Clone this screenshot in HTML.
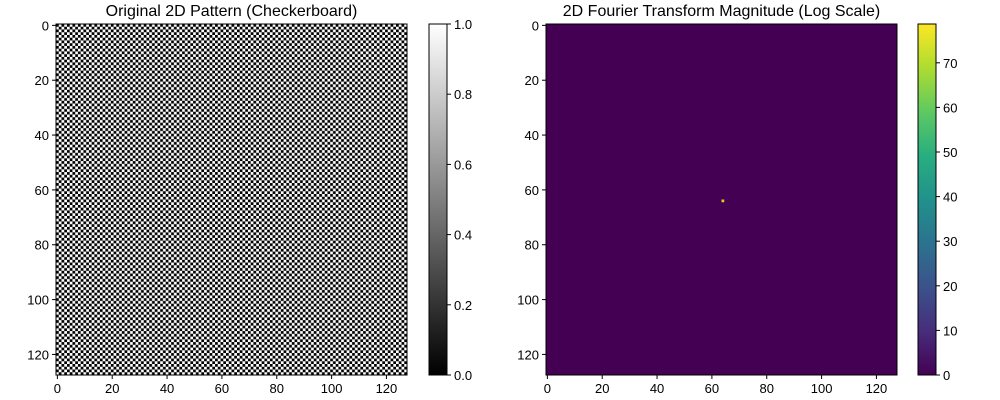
<!DOCTYPE html>
<html><head><meta charset="utf-8"><style>
body{margin:0;background:#fff;}
svg{display:block;font-family:"Liberation Sans","DejaVu Sans",sans-serif;}
</style></head><body>
<svg id="fig" width="1000" height="400" viewBox="0 0 1000 400">
<defs>
<pattern id="chk" patternUnits="userSpaceOnUse" x="56" y="24" width="5.484" height="5.484">
<rect x="0" y="0" width="5.484" height="5.484" fill="#fff"/>
<rect x="0" y="0" width="2.742" height="2.742" fill="#000"/>
<rect x="2.742" y="2.742" width="2.742" height="2.742" fill="#000"/>
</pattern>
<linearGradient id="gray" x1="0" y1="1" x2="0" y2="0"><stop offset="0" stop-color="#000"/><stop offset="1" stop-color="#fff"/></linearGradient>
<linearGradient id="vir" x1="0" y1="1" x2="0" y2="0">
<stop offset="0" stop-color="#440154"/><stop offset="0.125" stop-color="#472d7b"/><stop offset="0.25" stop-color="#3b528b"/><stop offset="0.375" stop-color="#2c728e"/><stop offset="0.5" stop-color="#21918c"/><stop offset="0.625" stop-color="#28ae80"/><stop offset="0.75" stop-color="#5ec962"/><stop offset="0.875" stop-color="#addc30"/><stop offset="1" stop-color="#fde725"/></linearGradient>
</defs>
<g id="root"></g>
</svg>
<script>
const gridSize = 128;
const peakPos = [64, 64];
const peakValue = 78.7;
const imgTicks = [0, 20, 40, 60, 80, 100, 120];
const leftCbTicks = [0, 0.2, 0.4, 0.6, 0.8, 1.0];
const rightCbTicks = [0, 10, 20, 30, 40, 50, 60, 70];
const titles = ["Original 2D Pattern (Checkerboard)", "2D Fourier Transform Magnitude (Log Scale)"];

const NS = "http://www.w3.org/2000/svg";
const root = document.getElementById('root');
function mk(tag, attrs, parent, txt){const e=document.createElementNS(NS,tag);for(const k in attrs)e.setAttribute(k,attrs[k]);if(txt!==undefined)e.textContent=txt;(parent||root).appendChild(e);return e;}
const W = 351, TOP = 24;
const axesX = [56, 546];
function sx(x0, v){return x0 + (v + 0.5) * W / gridSize;}
function sy(v){return TOP + (v + 0.5) * W / gridSize;}

axesX.forEach((x0, i) => {
  const g = mk('g', {});
  
  
  const img = mk('rect', {x:x0, y:TOP, width:W, height:W, fill: i === 0 ? 'url(#chk)' : '#440154'}, g);
  
  
  if (i === 1) {
    const c = W / gridSize;
    const p = mk('rect', {x: sx(x0, peakPos[0]) - c/2, y: sy(peakPos[1]) - c/2, width: c, height: c, fill: '#f5c51f'}, g);
    
    
  }
  mk('rect', {x:x0, y:TOP, width:W, height:W, fill:'none', stroke:'#000', 'stroke-width':1}, g);
  const t = mk('text', {x:x0 + W/2, y:16, 'text-anchor':'middle', 'font-size':16}, g, titles[i]);
  
  
  imgTicks.forEach(v => {
    const x = sx(x0, v);
    mk('line', {x1:x, x2:x, y1:TOP+W, y2:TOP+W+4, stroke:'#000'}, g);
    const tx = mk('text', {x:x, y:TOP+W+18, 'text-anchor':'middle', 'font-size':13}, g, v);
    
    
    const y = sy(v);
    mk('line', {x1:x0-4, x2:x0, y1:y, y2:y, stroke:'#000'}, g);
    const ty = mk('text', {x:x0-7, y:y+5, 'text-anchor':'end', 'font-size':13}, g, v);
    
    
  });
});

function colorbar(cx, grad, ticks, vmax, name, decimals){
  const g = mk('g', {});
  
  
  mk('rect', {x:cx, y:TOP, width:18, height:W, fill:grad, stroke:'#000', 'stroke-width':1}, g);
  ticks.forEach(v => {
    const y = TOP + W - v / vmax * W;
    mk('line', {x1:cx+18, x2:cx+22, y1:y, y2:y, stroke:'#000'}, g);
    const t = mk('text', {x:cx+25, y:y+5, 'font-size':13}, g, v.toFixed(decimals));
    
    
  });
}
colorbar(429, 'url(#gray)', leftCbTicks, 1.0, 'gray-colorbar', 1);
colorbar(918, 'url(#vir)', rightCbTicks, peakValue, 'viridis-colorbar', 0);
</script>
</body></html>
